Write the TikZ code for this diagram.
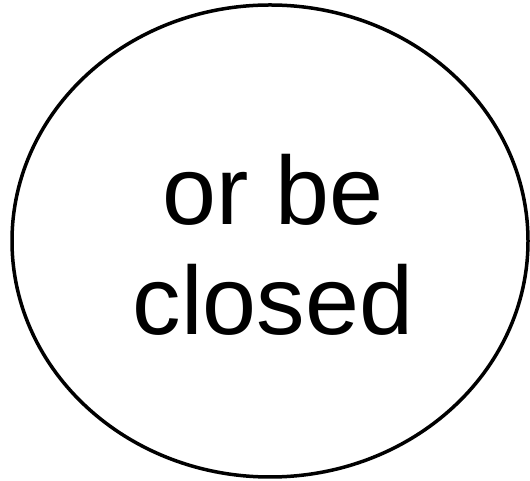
\documentclass[tikz,border=0pt]{standalone}
\usepackage{fontspec}
\setmainfont{Liberation Sans}
\usetikzlibrary{shapes.geometric}
\tikzset{
  bubble/.style={draw=black, line width=3.5pt, ellipse, minimum width=516pt, minimum height=472pt, inner sep=0pt},
  bigtext/.style={font=\fontsize{97}{110}\selectfont, anchor=base, inner sep=0pt}
}
\begin{document}
\begin{tikzpicture}[x=1pt,y=1pt]
\useasboundingbox (0,0) rectangle (530,481);
\node[bubble] (e) at (270,240) {};
\node[bigtext] (l1) at (273,256) {or be};
\node[bigtext] (l2) at (273,146) {closed};
\end{tikzpicture}
\end{document}
